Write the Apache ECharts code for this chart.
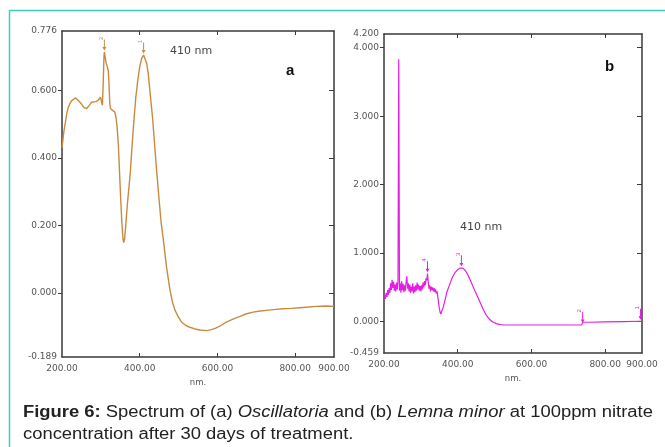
<!DOCTYPE html>
<html>
<head>
<meta charset="utf-8">
<style>
  html, body { margin: 0; padding: 0; background: #fff; }
  #chart { width: 665px; height: 447px; }
</style>
<script src="https://cdn.jsdelivr.net/npm/echarts@6/dist/echarts.min.js"></script>
</head>
<body>
<div id="chart"></div>
<script>
  // (a) Oscillatoria
  const waveA = [200, 202, 205, 208, 212, 216, 220, 225, 230, 235, 239, 244, 250, 256, 263, 270, 276, 281, 287, 293,
    297, 299, 302, 304, 306, 308, 309, 311, 313, 316, 319, 321, 323, 325, 330, 336, 339, 342, 345, 348,
    351, 354, 357, 359, 361, 364, 368, 372, 376, 380, 385, 390, 395, 400, 405, 410, 414, 418, 422, 427,
    433, 438, 443, 450, 455, 461, 469, 478, 485, 491, 500, 508, 518, 529, 542, 555, 572, 585, 597, 610,
    623, 640, 658, 675, 692, 710, 726, 750, 769, 790, 812, 835, 855, 880, 900]
  const absA = [0.43, 0.45, 0.48, 0.50, 0.53, 0.55, 0.56, 0.57, 0.572, 0.578, 0.576, 0.568, 0.56, 0.55, 0.546, 0.556, 0.565, 0.566, 0.567, 0.571,
    0.575, 0.58, 0.565, 0.556, 0.62, 0.70, 0.714, 0.70, 0.684, 0.672, 0.66, 0.62, 0.56, 0.546, 0.542, 0.536, 0.52, 0.49, 0.44, 0.36,
    0.28, 0.21, 0.16, 0.15, 0.16, 0.20, 0.26, 0.31, 0.36, 0.43, 0.51, 0.58, 0.63, 0.67, 0.695, 0.705, 0.70, 0.68, 0.65, 0.59,
    0.52, 0.445, 0.37, 0.275, 0.21, 0.156, 0.077, 0.008, -0.03, -0.051, -0.072, -0.086, -0.095, -0.101, -0.106, -0.109, -0.111, -0.108, -0.103, -0.095,
    -0.086, -0.077, -0.069, -0.061, -0.056, -0.053, -0.051, -0.048, -0.046, -0.045, -0.043, -0.041, -0.039, -0.038, -0.039]

  // (b) Lemna minor
  const waveB = [200, 202, 204, 206, 208, 210, 212, 214, 216, 218, 220, 222, 224, 226, 228, 230, 232, 234, 236, 238,
    240, 242, 244, 246, 248, 250, 252, 254, 256, 258, 260, 262, 264, 266, 268, 270, 272, 274, 276, 278,
    280, 282, 284, 286, 288, 290, 292, 294, 296, 298, 300, 302, 304, 306, 308, 310, 312, 314, 316, 318,
    320, 322, 324, 326, 328, 330, 332, 334, 336, 338, 340, 342, 344, 346, 348, 350, 352, 354, 356, 360,
    365, 370, 378, 385, 392, 400, 406, 410, 414, 420, 426, 432, 437, 444, 451, 460, 470, 478, 487, 496,
    505, 515, 525, 600, 700, 736, 738, 740, 760, 800, 850, 895, 900]
  const absB = [0.34, 0.39, 0.33, 0.42, 0.36, 0.46, 0.39, 0.49, 0.42, 0.56, 0.46, 0.61, 0.49, 0.58, 0.45, 0.54, 0.44, 0.57, 0.47, 0.58,
    3.83, 0.45, 0.56, 0.42, 0.59, 0.46, 0.55, 0.43, 0.53, 0.45, 0.58, 0.66, 0.48, 0.56, 0.44, 0.54, 0.42, 0.51, 0.44, 0.56,
    0.41, 0.51, 0.43, 0.53, 0.45, 0.57, 0.47, 0.54, 0.45, 0.52, 0.44, 0.53, 0.47, 0.57, 0.50, 0.59, 0.53, 0.63, 0.60, 0.70,
    0.58, 0.48, 0.53, 0.44, 0.51, 0.46, 0.50, 0.44, 0.49, 0.43, 0.47, 0.41, 0.44, 0.36, 0.28, 0.20, 0.14, 0.11, 0.13, 0.20,
    0.30, 0.42, 0.54, 0.64, 0.71, 0.76, 0.78, 0.785, 0.78, 0.75, 0.70, 0.63, 0.57, 0.48, 0.40, 0.29, 0.17, 0.09, 0.03, -0.01,
    -0.03, -0.045, -0.05, -0.05, -0.05, -0.05, -0.045, -0.01, -0.01, -0.005, 0.0, 0.005, 0.005]

  // peak markers: wavelength, absorbance, peak number
  const peaksA = [[309, 0.714, '2'], [410, 0.705, '1']]
  const peaksB = [[318, 0.70, '4'], [410, 0.785, '3'], [739, -0.04, '2'], [896, 0.005, '1']]

  // tick labels
  const xLabels = [200, 400, 600, 800, 900]
  const xTicks = [400, 600, 800]
  const yLabelsA = [-0.189, 0, 0.2, 0.4, 0.6, 0.776]
  const yTicksA = [0, 0.2, 0.4, 0.6]
  const yLabelsB = [-0.459, 0, 1, 2, 3, 4, 4.2]
  const yTicksB = [0, 1, 2, 3, 4]

  const colorA = '#c98a40'
  const colorB = '#e41ee4'
  const axisColor = '#3a3a3a'
  const labelColor = '#555'
  const font = 'Liberation Sans, Arial, sans-serif'
  const tickFont = 'DejaVu Sans, sans-serif'

  function bottomAxis(grid) {
    return {
      type: 'value', gridIndex: grid, min: 200, max: 900,
      name: 'nm.', nameLocation: 'middle', nameGap: 19,
      nameTextStyle: { fontSize: 8.5, color: labelColor, fontFamily: tickFont },
      axisLine: { onZero: false, lineStyle: { color: axisColor, width: 1.5 } },
      axisTick: { inside: true, length: 4, customValues: xTicks, lineStyle: { color: axisColor } },
      axisLabel: { customValues: xLabels, formatter: v => v.toFixed(2), fontSize: 9, color: labelColor, fontFamily: tickFont, margin: 7 },
      splitLine: { show: false }
    }
  }
  function topAxis(grid) {
    return {
      type: 'value', gridIndex: grid, position: 'top', min: 200, max: 900,
      axisLine: { onZero: false, lineStyle: { color: axisColor, width: 1.5 } },
      axisTick: { inside: true, length: 4, customValues: xTicks, lineStyle: { color: axisColor } },
      axisLabel: { show: false },
      splitLine: { show: false }
    }
  }
  function leftAxis(grid, min, max, labels, ticks) {
    return {
      type: 'value', gridIndex: grid, min: min, max: max,
      axisLine: { show: true, onZero: false, lineStyle: { color: axisColor, width: 1.5 } },
      axisTick: { show: true, length: 4, customValues: ticks, lineStyle: { color: axisColor } },
      axisLabel: { customValues: labels, formatter: v => v.toFixed(3), fontSize: 9, color: labelColor, fontFamily: tickFont, margin: 5 },
      splitLine: { show: false }
    }
  }
  function rightAxis(grid, min, max, ticks) {
    return {
      type: 'value', gridIndex: grid, position: 'right', min: min, max: max,
      axisLine: { show: true, onZero: false, lineStyle: { color: axisColor, width: 1.5 } },
      axisTick: { show: true, inside: true, length: 5, customValues: ticks, lineStyle: { color: axisColor } },
      axisLabel: { show: false },
      splitLine: { show: false }
    }
  }
  function peakMarks(peaks, color) {
    return {
      symbol: 'path://M1.5,0 L2.5,0 L2.5,9 L4,9 L2,13 L0,9 L1.5,9 Z',
      symbolSize: [4, 11],
      symbolOffset: [0, -7],
      itemStyle: { color: color },
      label: { show: true, position: 'top', distance: 1, rotate: 90, fontSize: 6, color: color, formatter: '{b}' },
      data: peaks.map(p => ({ coord: [p[0], p[1]], name: p[2] }))
    }
  }

  const chart = echarts.init(document.getElementById('chart'))
  chart.setOption({
    animation: false,
    backgroundColor: '#fff',
    grid: [
      { left: 62, top: 31, width: 272, height: 326 },
      { left: 384, top: 34, width: 258, height: 319 }
    ],
    xAxis: [bottomAxis(0), topAxis(0), bottomAxis(1), topAxis(1)],
    yAxis: [
      leftAxis(0, -0.189, 0.776, yLabelsA, yTicksA),
      rightAxis(0, -0.189, 0.776, yTicksA),
      leftAxis(1, -0.459, 4.2, yLabelsB, yTicksB),
      rightAxis(1, -0.459, 4.2, yTicksB)
    ],
    series: [
      {
        type: 'line', xAxisIndex: 0, yAxisIndex: 0, symbol: 'none',
        lineStyle: { color: colorA, width: 1.4 },
        data: waveA.map((w, i) => [w, absA[i]]),
        markPoint: peakMarks(peaksA, colorA)
      },
      {
        type: 'line', xAxisIndex: 2, yAxisIndex: 2, symbol: 'none',
        lineStyle: { color: colorB, width: 1.2 },
        data: waveB.map((w, i) => [w, absB[i]]),
        markPoint: peakMarks(peaksB, colorB)
      }
    ],
    graphic: [
      { type: 'line', shape: { x1: 9, y1: 10.5, x2: 665, y2: 10.5 }, style: { stroke: '#3ccfc0', lineWidth: 1.5 } },
      { type: 'line', shape: { x1: 9.5, y1: 10, x2: 9.5, y2: 447 }, style: { stroke: '#3ccfc0', lineWidth: 1.5 } },
      { type: 'text', left: 170, top: 46, style: { text: '410 nm', fontSize: 11, fill: '#444', fontFamily: tickFont } },
      { type: 'text', left: 286, top: 63, style: { text: 'a', fontSize: 15, fontWeight: 'bold', fill: '#111', fontFamily: font } },
      { type: 'text', left: 460, top: 222, style: { text: '410 nm', fontSize: 11, fill: '#444', fontFamily: tickFont } },
      { type: 'text', left: 605, top: 59, style: { text: 'b', fontSize: 15, fontWeight: 'bold', fill: '#111', fontFamily: font } },
      {
        type: 'text', x: 23, y: 402, scaleX: 1.15,
        style: {
          text: '{bold|Figure 6:} Spectrum of (a) {it|Oscillatoria} and (b) {it|Lemna minor} at 100ppm nitrate\nconcentration after 30 days of treatment.',
          fontSize: 16, lineHeight: 22, fill: '#222', fontFamily: font,
          rich: {
            bold: { fontWeight: 'bold', fontSize: 16, fill: '#222', fontFamily: font },
            it: { fontStyle: 'italic', fontSize: 16, fill: '#222', fontFamily: font }
          }
        }
      }
    ]
  })
</script>
</body>
</html>
